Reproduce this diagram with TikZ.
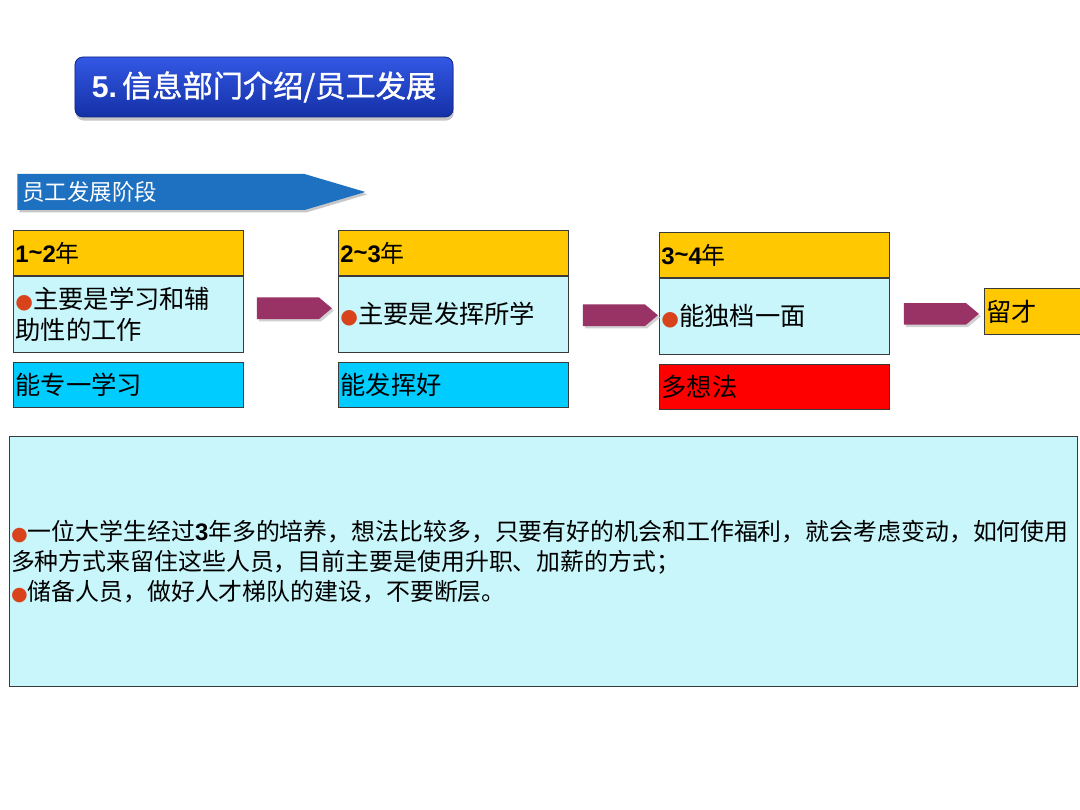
\documentclass[tikz,border=0pt]{standalone}
\usepackage{fontspec}
\setmainfont{Noto Sans CJK SC}
\newfontfamily\latinfont{Liberation Sans}
\newfontfamily\symfont{DejaVu Sans}
\newfontfamily\titlefont{Noto Sans CJK SC}[FakeBold=1.2]
\usetikzlibrary{positioning,calc,shapes.arrows,shadows}

\definecolor{titletop}{HTML}{3358E4}
\definecolor{titlebottom}{HTML}{1430A6}
\definecolor{bannerblue}{HTML}{1E70C0}
\definecolor{yearyellow}{HTML}{FFC800}
\definecolor{lightcyan}{HTML}{C8F6FA}
\definecolor{goalblue}{HTML}{00CCFF}
\definecolor{goalred}{HTML}{FF0000}
\definecolor{arrowpurple}{HTML}{993366}
\definecolor{bulletred}{HTML}{D8431C}
\definecolor{boxline}{HTML}{3A3A3A}

\newcommand{\stagebullet}{{\symfont\textcolor{bulletred}{\scalebox{0.8}{●}}}}

\tikzset{
  box/.style={draw=boxline, line width=0.6pt, anchor=north west,
    inner xsep=0.5mm, inner ysep=0pt, text width=56.5mm, align=left},
  yearbox/.style={box, fill=yearyellow, minimum height=11.25mm,
    font=\fontsize{17}{20}\selectfont},
  dutybox/.style={box, fill=lightcyan, minimum height=19mm,
    font=\fontsize{18}{21.5}\selectfont},
  goalbox/.style={box, minimum height=11.25mm,
    font=\fontsize{18}{21.5}\selectfont},
  stagearrow/.style={single arrow, single arrow head extend=0pt,
    single arrow tip angle=80, fill=arrowpurple, inner sep=0pt,
    minimum height=18.75mm, minimum width=5.4mm,
    drop shadow={shadow xshift=0.5mm, shadow yshift=-0.6mm, fill=black!18, opacity=1}}
}

\begin{document}
\begin{tikzpicture}[x=0.25mm, y=-0.25mm]
  \useasboundingbox[fill=white] (0,0) rectangle (1080,810);

  % title
  \node[rounded corners=2mm, draw=titlebottom!80!black, line width=0.6pt,
    top color=titletop, bottom color=titlebottom, inner sep=0pt,
    minimum width=94.5mm, minimum height=15mm, text=white,
    drop shadow={shadow xshift=0.2mm, shadow yshift=-0.9mm, opacity=0.45},
    font=\titlefont\fontsize{21.5}{24}\selectfont]
    (title) at (264,87) {{\latinfont\bfseries 5.}\,信息部门介绍/员工发展};

  % banner
  \node[single arrow, single arrow head extend=0pt, single arrow tip angle=33,
    fill=bannerblue, inner sep=0pt, minimum height=87mm, minimum width=9mm,
    anchor=west, drop shadow={shadow xshift=0.5mm, shadow yshift=-0.6mm, fill=black!22, opacity=1}]
    (banner) at (17,192) {};
  \node[anchor=west, text=white, inner sep=0pt, font=\fontsize{16}{18}\selectfont]
    (bannertext) at ($(banner.west)+(5,0)$) {员工发展阶段};

  % stage 1
  \node[yearbox] (y1) at (13,230) {{\latinfont\bfseries 1\raisebox{.1ex}{\char`~}2}年};
  \node[dutybox, below=0pt of y1] (d1) {\stagebullet 主要是学习和辅\\助性的工作};
  \node[goalbox, fill=goalblue, below=2.25mm of d1] (g1) {能专一学习};

  % stage 2
  \node[yearbox] (y2) at (338,230) {{\latinfont\bfseries 2\raisebox{.1ex}{\char`~}3}年};
  \node[dutybox, below=0pt of y2] (d2) {\stagebullet 主要是发挥所学};
  \node[goalbox, fill=goalblue, below=2.25mm of d2] (g2) {能发挥好};

  % stage 3
  \node[yearbox] (y3) at (659,232) {{\latinfont\bfseries 3\raisebox{.1ex}{\char`~}4}年};
  \node[dutybox, below=0pt of y3] (d3) {\stagebullet 能独档一面};
  \node[goalbox, fill=goalred, below=2.25mm of d3] (g3) {多想法};

  % result
  \node[box, fill=yearyellow, minimum height=11.5mm, text width=24mm,
    font=\fontsize{18}{21.5}\selectfont] (keep) at (984,288) {留才};

  % arrows between stages
  \node[stagearrow] (a1) at ($(d1.east)!0.5!(d2.west)+(-3,-6)$) {};
  \node[stagearrow] (a2) at ($(d2.east)!0.5!(d3.west)$) {};
  \node[stagearrow] (a3) at ($(d3.east)!0.5!(keep.west)+(-2,0)$) {};

  % notes
  \node[box, fill=lightcyan, minimum height=62.5mm, text width=266.2mm,
    inner xsep=0.4mm, font=\fontsize{17}{21.3}\selectfont] (notes) at (9,436)
    {\stagebullet 一位大学生经过{\latinfont\bfseries 3}年多的培养，想法比较多，只要有好的机会和工作福利，就会考虑变动，如何使用\\
     多种方式来留住这些人员，目前主要是使用升职、加薪的方式；\\
     \stagebullet 储备人员，做好人才梯队的建设，不要断层。};
\end{tikzpicture}
\end{document}
